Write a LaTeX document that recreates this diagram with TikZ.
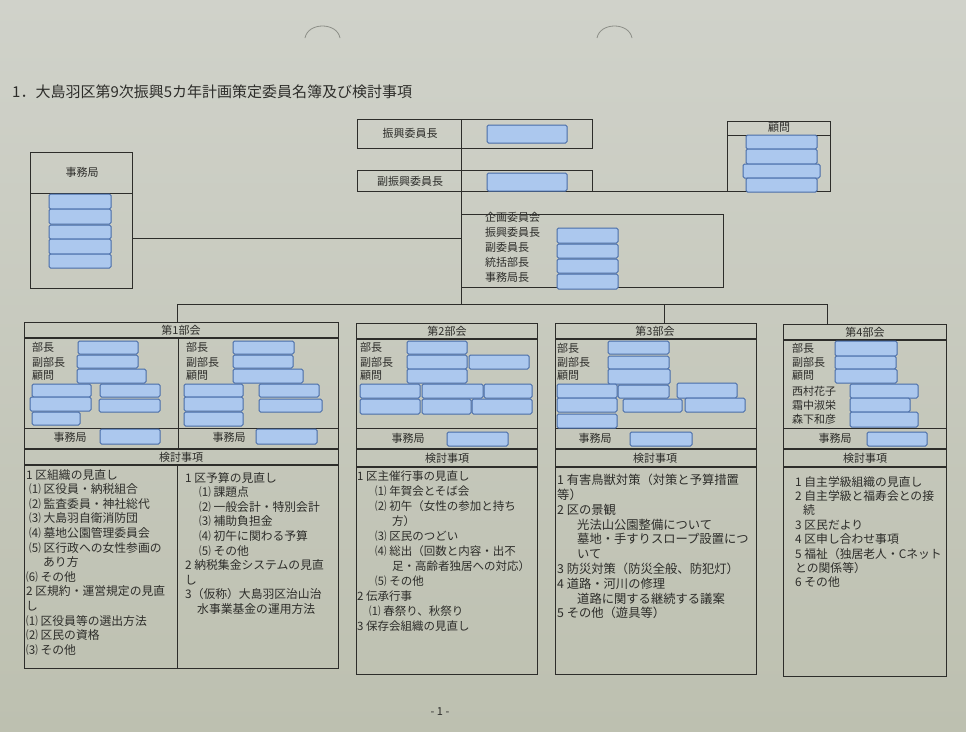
\documentclass[tikz,border=0pt]{standalone}
\usepackage{fontspec}
\setmainfont{Noto Sans CJK JP}
\usetikzlibrary{fit}
\definecolor{page}{RGB}{189,192,176}
\definecolor{pagetop}{RGB}{208,210,202}
\definecolor{ink}{RGB}{45,45,42}
\definecolor{bfill}{RGB}{172,200,238}
\definecolor{bdraw}{RGB}{72,108,168}
\definecolor{hole}{RGB}{140,142,135}
\newcommand\bluebx[5]{\node[bluebox, fit={(#2,#3) (#4,#5)}] (#1) {};}
\newcommand\framebx[5]{\node[framebox, fit={(#2,#3) (#4,#5)}] (#1) {};}
\tikzset{
  bluebox/.style={draw=bdraw, fill=bfill, line width=1pt, rounded corners=1.5pt, inner sep=0pt},
  framebox/.style={draw=ink, line width=0.9pt, inner sep=0pt},
  lbl/.style={text=ink, font=\fontsize{11}{12}\selectfont, inner sep=0pt},
  item/.style={text=ink, align=left, anchor=north west, inner sep=0pt},
  rule/.style={draw=ink, line width=0.9pt},
  dbl/.style={draw=ink, line width=1.6pt},
  conn/.style={draw=ink, line width=0.9pt},
}
\begin{document}
\begin{tikzpicture}[x=1pt, y=-1pt]
\useasboundingbox (0,0) rectangle (966,731);
\shade[top color=pagetop, bottom color=page] (0,0) rectangle (966,731);
% punch holes
\draw[hole, line width=0.8pt] (305,38) .. controls (308,22) and (337,22) .. (340,38);
\draw[hole, line width=0.8pt] (597,38) .. controls (600,22) and (629,22) .. (632,38);

% title
\node[anchor=west, text=ink, font=\fontsize{15}{17}\selectfont, inner sep=0pt] (title) at (12,92)
  {1．大島羽区第9次振興5カ年計画策定委員名簿及び検討事項};

% ===== top center =====
\framebx{chair}{357}{119}{592}{148}
\framebx{vchair}{357}{170}{592}{191}
\node[lbl] (chairl) at (410,133) {振興委員長};
\node[lbl] (vchairl) at (410,181) {副振興委員長};
\bluebx{chairb}{487}{125}{567}{143}
\bluebx{vchairb}{487}{173}{567}{191}

% komon
\framebx{komon}{727}{121}{830}{191}
\draw[rule] (727,135) -- (830,135);
\node[lbl] (komonl) at (779,128) {顧問};
\bluebx{k1}{746}{135}{817}{149}
\bluebx{k2}{746}{149}{817}{164}
\bluebx{k3}{743}{164}{820}{178}
\bluebx{k4}{746}{178}{817}{192}

% jimukyoku (left)
\framebx{jimu}{30}{152}{132}{288}
\draw[rule] (30,193) -- (132,193);
\node[lbl] (jimul) at (82,172) {事務局};
\bluebx{j1}{49}{194}{111}{209}
\bluebx{j2}{49}{209}{111}{224}
\bluebx{j3}{49}{225}{111}{239}
\bluebx{j4}{49}{239}{111}{254}
\bluebx{j5}{49}{254}{111}{268}

% kikaku
\framebx{kikaku}{461}{214}{723}{287}
\node[item, font=\fontsize{11}{14.9}\selectfont] (kikakut) at (485,212)
  {企画委員会\\振興委員長\\副委員長\\統括部長\\事務局長};
\bluebx{q1}{557}{228}{618}{243}
\bluebx{q2}{557}{244}{618}{258}
\bluebx{q3}{557}{259}{618}{273}
\bluebx{q4}{557}{274}{618}{289}

% connectors
\coordinate (spt) at (461,119);
\coordinate (bus0) at (461,304);
\coordinate (busL) at (177,304);
\coordinate (bus3) at (664,304);
\coordinate (busR) at (827,304);
\coordinate (jl) at (461,238);
\draw[conn] (spt) -- (bus0);
\draw[conn] (vchair.south east) -- (komon.south west);
\draw[conn] (jimu.east |- jl) -- (jl);
\draw[conn] (busL) -- (busR);

% ===== 第1部会 =====
\framebx{b1}{24}{322}{338}{668}
\draw[conn] (busL) -- (busL |- b1.north);
\draw[dbl] (24,338) -- (338,338);
\draw[rule] (178,338) -- (178,449);
\draw[rule] (24,428) -- (338,428);
\draw[dbl] (24,449) -- (338,449);
\draw[dbl] (24,465) -- (338,465);
\draw[rule] (177,465) -- (177,668);
\node[lbl] (b1h) at (181,330) {第1部会};
\node[lbl] (b1k) at (181,457) {検討事項};
\node[lbl, anchor=west] (b1l1) at (32,347) {部長};
\node[lbl, anchor=west] (b1l2) at (32,362) {副部長};
\node[lbl, anchor=west] (b1l3) at (32,376) {顧問};
\node[lbl, anchor=west] (b1r1) at (186,347) {部長};
\node[lbl, anchor=west] (b1r2) at (186,362) {副部長};
\node[lbl, anchor=west] (b1r3) at (186,376) {顧問};
\node[lbl] (b1j1) at (70,437) {事務局};
\node[lbl] (b1j2) at (229,437) {事務局};
\bluebx{b1a}{78}{341}{138}{354}
\bluebx{b1b}{77}{355}{138}{368}
\bluebx{b1c}{77}{369}{146}{383}
\bluebx{b1d}{32}{384}{91}{397}
\bluebx{b1e}{100}{384}{160}{397}
\bluebx{b1f}{30}{397}{91}{411}
\bluebx{b1g}{99}{399}{160}{412}
\bluebx{b1hh}{32}{412}{80}{425}
\bluebx{b1j}{100}{429}{160}{444}
\bluebx{b1kk}{233}{341}{294}{354}
\bluebx{b1ll}{233}{355}{293}{368}
\bluebx{b1m}{233}{369}{303}{383}
\bluebx{b1n}{184}{384}{243}{397}
\bluebx{b1o}{259}{384}{319}{397}
\bluebx{b1p}{184}{397}{243}{411}
\bluebx{b1q}{259}{399}{322}{412}
\bluebx{b1r}{184}{412}{243}{426}
\bluebx{b1s}{256}{429}{317}{444}
\node[item, font=\fontsize{11.8}{14.6}\selectfont] (t1a) at (26,469) {%
1 区組織の見直し\\
\hspace*{3pt}⑴ 区役員・納税組合\\
\hspace*{3pt}⑵ 監査委員・神社総代\\
\hspace*{3pt}⑶ 大島羽自衛消防団\\
\hspace*{3pt}⑷ 墓地公園管理委員会\\
\hspace*{3pt}⑸ 区行政への女性参画の\\
\hspace*{17pt}あり方\\
⑹ その他\\
2 区規約・運営規定の見直\\
し\\
⑴ 区役員等の選出方法\\
⑵ 区民の資格\\
⑶ その他};
\node[item, font=\fontsize{11.8}{14.6}\selectfont] (t1b) at (185,472) {%
1 区予算の見直し\\
\hspace*{14pt}⑴ 課題点\\
\hspace*{14pt}⑵ 一般会計・特別会計\\
\hspace*{14pt}⑶ 補助負担金\\
\hspace*{14pt}⑷ 初午に関わる予算\\
\hspace*{14pt}⑸ その他\\
2 納税集金システムの見直\\
し\\
3（仮称）大島羽区治山治\\
\hspace*{12pt}水事業基金の運用方法};

% ===== 第2部会 =====
\framebx{b2}{356}{323}{537}{674}
\draw[dbl] (356,339) -- (537,339);
\draw[rule] (356,428) -- (537,428);
\draw[dbl] (356,449) -- (537,449);
\draw[dbl] (356,467) -- (537,467);
\node[lbl] (b2h) at (447,331) {第2部会};
\node[lbl] (b2k) at (447,458) {検討事項};
\node[lbl, anchor=west] (b2l1) at (360,347) {部長};
\node[lbl, anchor=west] (b2l2) at (360,362) {副部長};
\node[lbl, anchor=west] (b2l3) at (360,376) {顧問};
\node[lbl] (b2j) at (408,438) {事務局};
\bluebx{b2a}{407}{341}{467}{354}
\bluebx{b2b}{407}{355}{467}{369}
\bluebx{b2c}{469}{355}{529}{369}
\bluebx{b2d}{407}{369}{467}{383}
\bluebx{b2e}{360}{384}{420}{398}
\bluebx{b2f}{422}{384}{483}{398}
\bluebx{b2g}{484}{384}{532}{398}
\bluebx{b2hh}{360}{399}{420}{414}
\bluebx{b2i}{422}{399}{471}{414}
\bluebx{b2jj}{472}{399}{532}{414}
\bluebx{b2kk}{447}{432}{508}{446}
\node[item, font=\fontsize{11.5}{15}\selectfont] (t2) at (357,471) {%
1 区主催行事の見直し\\
\hspace*{18pt}⑴ 年賀会とそば会\\
\hspace*{18pt}⑵ 初午（女性の参加と持ち\\
\hspace*{35pt}方）\\
\hspace*{18pt}⑶ 区民のつどい\\
\hspace*{18pt}⑷ 総出（回数と内容・出不\\
\hspace*{35pt}足・高齢者独居への対応）\\
\hspace*{18pt}⑸ その他\\
2 伝承行事\\
\hspace*{12pt}⑴ 春祭り、秋祭り\\
3 保存会組織の見直し};

% ===== 第3部会 =====
\framebx{b3}{555}{323}{756}{674}
\draw[conn] (bus3) -- (bus3 |- b3.north);
\draw[dbl] (555,339) -- (756,339);
\draw[rule] (555,428) -- (756,428);
\draw[dbl] (555,449) -- (756,449);
\draw[dbl] (555,467) -- (756,467);
\node[lbl] (b3h) at (655,331) {第3部会};
\node[lbl] (b3k) at (655,458) {検討事項};
\node[lbl, anchor=west] (b3l1) at (557,348) {部長};
\node[lbl, anchor=west] (b3l2) at (557,362) {副部長};
\node[lbl, anchor=west] (b3l3) at (557,376) {顧問};
\node[lbl] (b3j) at (595,438) {事務局};
\bluebx{b3a}{608}{341}{669}{354}
\bluebx{b3b}{608}{356}{669}{369}
\bluebx{b3c}{608}{369}{670}{384}
\bluebx{b3d}{557}{384}{617}{398}
\bluebx{b3e}{618}{385}{669}{398}
\bluebx{b3f}{677}{383}{737}{398}
\bluebx{b3g}{557}{398}{617}{412}
\bluebx{b3hh}{623}{399}{682}{412}
\bluebx{b3i}{685}{398}{745}{412}
\bluebx{b3jj}{557}{414}{617}{428}
\bluebx{b3kk}{630}{432}{692}{446}
\node[item, font=\fontsize{12.3}{14.8}\selectfont] (t3) at (557,474) {%
1 有害鳥獣対策（対策と予算措置\\
等）\\
2 区の景観\\
\hspace*{20pt}光法山公園整備について\\
\hspace*{20pt}墓地・手すりスロープ設置につ\\
\hspace*{20pt}いて\\
3 防災対策（防災全般、防犯灯）\\
4 道路・河川の修理\\
\hspace*{20pt}道路に関する継続する議案\\
5 その他（遊具等）};

% ===== 第4部会 =====
\framebx{b4}{783}{324}{946}{676}
\draw[conn] (busR) -- (busR |- b4.north);
\draw[dbl] (783,340) -- (946,340);
\draw[rule] (783,428) -- (946,428);
\draw[dbl] (783,449) -- (946,449);
\draw[dbl] (783,467) -- (946,467);
\node[lbl] (b4h) at (865,332) {第4部会};
\node[lbl] (b4k) at (865,458) {検討事項};
\node[lbl, anchor=west] (b4l1) at (792,348) {部長};
\node[lbl, anchor=west] (b4l2) at (792,362) {副部長};
\node[lbl, anchor=west] (b4l3) at (792,376) {顧問};
\node[lbl, anchor=west] (b4l4) at (792,391) {西村花子};
\node[lbl, anchor=west] (b4l5) at (792,405) {霜中淑栄};
\node[lbl, anchor=west] (b4l6) at (792,419) {森下和彦};
\node[lbl] (b4j) at (835,438) {事務局};
\bluebx{b4a}{835}{341}{897}{356}
\bluebx{b4b}{835}{356}{896}{369}
\bluebx{b4c}{835}{369}{897}{383}
\bluebx{b4d}{850}{384}{918}{398}
\bluebx{b4e}{850}{398}{910}{412}
\bluebx{b4f}{850}{412}{918}{427}
\bluebx{b4g}{867}{432}{927}{446}
\node[item, font=\fontsize{11.8}{14.4}\selectfont] (t4) at (795,476) {%
1 自主学級組織の見直し\\
2 自主学級と福寿会との接\\
\hspace*{8pt}続\\
3 区民だより\\
4 区申し合わせ事項\\
5 福祉（独居老人・Cネット\\
との関係等）\\
6 その他};

% page number
\node[lbl, font=\fontsize{11}{12}\selectfont] (pg) at (440,712) {- 1 -};
\end{tikzpicture}
\end{document}
